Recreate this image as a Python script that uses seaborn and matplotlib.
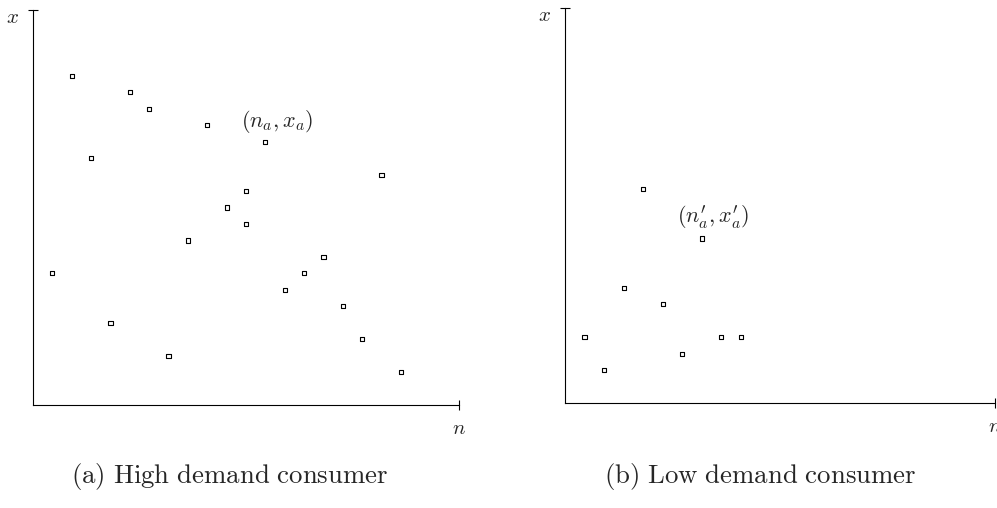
import matplotlib
matplotlib.use("Agg")
import matplotlib.pyplot as plt
import seaborn as sns
import pandas as pd

# High demand consumer points (n, x)
high_n = [1, 2, 3, 4, 5, 6, 7, 8, 9, 10, 11, 11, 12, 13, 14, 15, 16, 17, 18, 19]
high_x = [8, 20, 15, 5, 19, 18, 3, 10, 17, 12, 13, 11, 16, 7, 8, 9, 6, 4, 14, 2]

# Low demand consumer points (n, x)
low_n = [1, 2, 3, 4, 5, 6, 7, 8, 9]
low_x = [4, 2, 7, 13, 6, 3, 10, 4, 4]

captions = ["(a) High demand consumer", "(b) Low demand consumer"]

sns.set_style("white")
plt.rcParams["mathtext.fontset"] = "cm"

fig = plt.figure(figsize=(9.97, 5.08), dpi=100)
ax1 = fig.add_axes([33 / 997, 103 / 508, 426 / 997, 395 / 508])
ax2 = fig.add_axes([565 / 997, 105 / 508, 430 / 997, 395 / 508])

panels = [
    (ax1, high_n, high_x, r"$(n_a, x_a)$", (12.6, 17.2)),
    (ax2, low_n, low_x, r"$(n_a^{\prime}, x_a^{\prime})$", (7.6, 11.3)),
]

for i, (ax, n, x, lab, lab_pos) in enumerate(panels):
    df = pd.DataFrame({"n": n, "x": x})
    sns.scatterplot(data=df, x="n", y="x", ax=ax, marker="s", s=9,
                    facecolor="none", edgecolor="black", linewidth=0.8)
    ax.set_xlim(0, 22)
    ax.set_ylim(0, 24)
    ax.set_xticks([])
    ax.set_yticks([])
    ax.set_xlabel("")
    ax.set_ylabel("")
    for side in ["top", "right"]:
        ax.spines[side].set_visible(False)
    for side in ["left", "bottom"]:
        ax.spines[side].set_color("black")
        ax.spines[side].set_linewidth(0.8)
    # end caps on the axes
    ax.plot([22], [0], marker="|", color="black", markersize=7, mew=0.8, clip_on=False)
    ax.plot([0], [24], marker="_", color="black", markersize=7, mew=0.8, clip_on=False)
    ax.text(-0.7, 23.6, r"$x$", fontsize=15, ha="right", va="center")
    ax.text(22, -1.4, r"$n$", fontsize=15, ha="center", va="center")
    ax.text(lab_pos[0], lab_pos[1], lab, fontsize=16, ha="center", va="center")

fig.text(230 / 997, 1 - 477 / 508, r"$\mathrm{" + captions[0].replace(" ", r"\ ") + "}$",
         fontsize=19.3, ha="center", va="center")
fig.text(760 / 997, 1 - 477 / 508, r"$\mathrm{" + captions[1].replace(" ", r"\ ") + "}$",
         fontsize=19.3, ha="center", va="center")

fig.savefig("out.png", dpi=100)
